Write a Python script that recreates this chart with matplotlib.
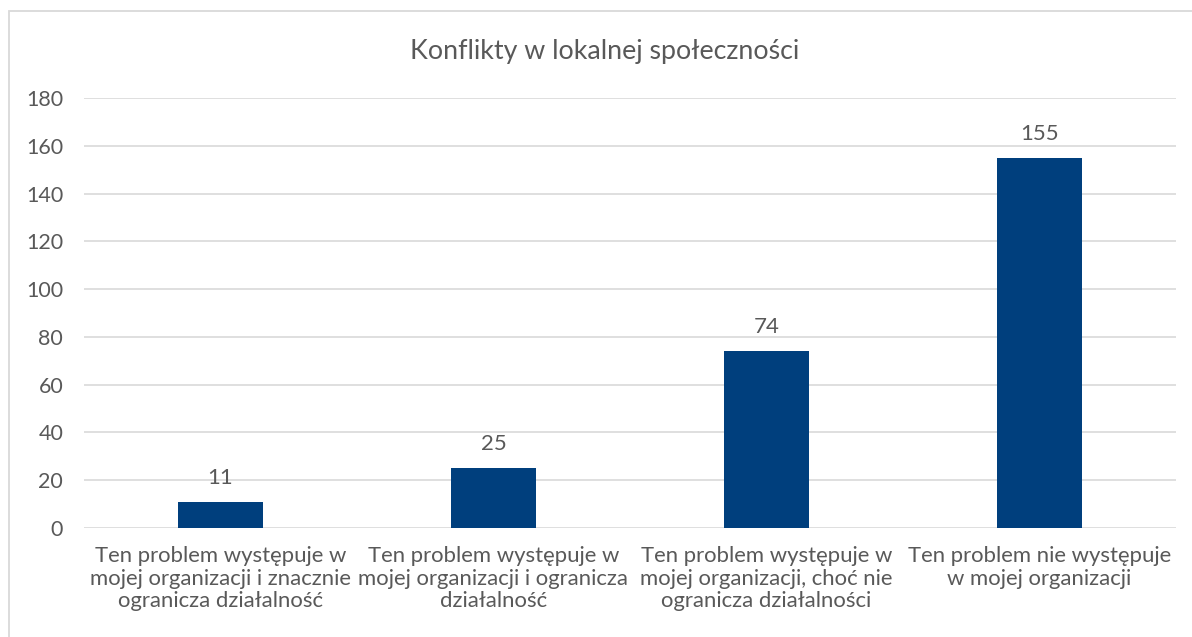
import matplotlib
matplotlib.use("Agg")
import matplotlib.pyplot as plt
from matplotlib.patches import Rectangle

categories = [
    "Ten problem występuje w\nmojej organizacji i znacznie\nogranicza działalność",
    "Ten problem występuje w\nmojej organizacji i ogranicza\ndziałalność",
    "Ten problem występuje w\nmojej organizacji, choć nie\nogranicza działalności",
    "Ten problem nie występuje\nw mojej organizacji",
]
values = [11, 25, 74, 155]
yticks = [0, 20, 40, 60, 80, 100, 120, 140, 160, 180]
title = "Konflikty w lokalnej społeczności"

plt.rcParams['font.family'] = ['Lato', 'DejaVu Sans']
W, H = 1192, 637
fig = plt.figure(figsize=(W/100, H/100), dpi=100)
txt = '#595959'
bar_color = '#003f7d'

fig.patches.append(Rectangle((9/W, -0.1), 1.2, 1 - 11/H + 0.1, transform=fig.transFigure,
                             fill=False, edgecolor='#d9d9d9', linewidth=1.3))

ax = fig.add_axes([84/W, 1 - 528/H, (1176-84)/W, (528-98)/H])
x = list(range(len(categories)))
ax.bar(x, values, width=0.31, color=bar_color, zorder=3)
ax.set_xlim(-0.5, len(categories) - 0.5)
ax.set_ylim(0, 180)
ax.set_yticks(yticks)
ax.set_yticklabels([str(v) for v in yticks], fontsize=15.5, color=txt)
ax.set_xticks(x)
ax.set_xticklabels(categories, fontsize=15.9, color=txt, linespacing=1.16)
ax.tick_params(axis='both', length=0)
ax.tick_params(axis='y', pad=15)
ax.tick_params(axis='x', pad=13)
ax.grid(axis='y', color='#d9d9d9', linewidth=1.2, zorder=0)
for s in ax.spines.values():
    s.set_visible(False)
for xi, v in zip(x, values):
    ax.annotate(str(v), (xi, v), xytext=(0, 10), textcoords='offset points',
                ha='center', va='bottom', fontsize=16, color=txt)

fig.text(0.5 + 9/W, 1 - 51/H, title, ha='center', va='center', fontsize=19.3, color=txt)

fig.savefig("out.png", dpi=100)
